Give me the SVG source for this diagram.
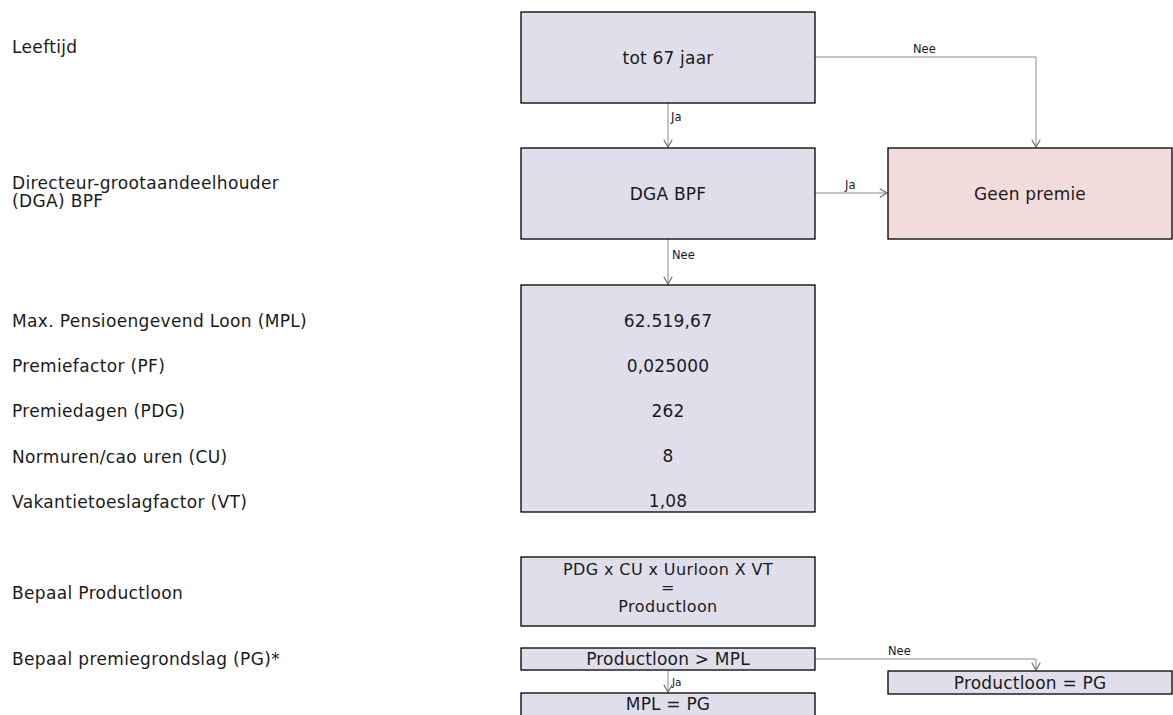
<svg xmlns="http://www.w3.org/2000/svg" width="1173" height="715" viewBox="0 0 1173 715">
<style>
.lbl{font-family:"DejaVu Sans","Verdana",sans-serif;font-size:17px;letter-spacing:0.35px;fill:#1a1a1a}
.box{fill:#e1deec;stroke:#000;stroke-width:1.3}
.pink{fill:#f2dcdb;stroke:#000;stroke-width:1.3}
.t{font-family:"DejaVu Sans","Verdana",sans-serif;font-size:17px;letter-spacing:0.2px;fill:#1a1a1a;text-anchor:middle}
.t2{font-size:16px;letter-spacing:0.4px}
.c{fill:none;stroke:#8c8c8c;stroke-width:1}
.cl{font-family:"DejaVu Sans","Verdana",sans-serif;font-size:11.5px;fill:#1a1a1a}
</style>
<defs>
<marker id="arr" markerUnits="userSpaceOnUse" markerWidth="12" markerHeight="12" viewBox="-8 -5 10 10" refX="0" refY="0" orient="auto">
<path d="M-6,-3.5 L0,0 L-6,3.5" fill="none" stroke="#6e6e6e" stroke-width="1"/>
</marker>
</defs>
<rect width="1173" height="715" fill="#fff"/>
<g id="labels">
<text class="lbl" x="12" y="53">Leeftijd</text>
<text class="lbl" x="12" y="189">Directeur-grootaandeelhouder</text>
<text class="lbl" x="12" y="207">(DGA) BPF</text>
<text class="lbl" x="12" y="327">Max. Pensioengevend Loon (MPL)</text>
<text class="lbl" x="12" y="372">Premiefactor (PF)</text>
<text class="lbl" x="12" y="417">Premiedagen (PDG)</text>
<text class="lbl" x="12" y="463">Normuren/cao uren (CU)</text>
<text class="lbl" x="12" y="508">Vakantietoeslagfactor (VT)</text>
<text class="lbl" x="12" y="599">Bepaal Productloon</text>
<text class="lbl" x="12" y="665">Bepaal premiegrondslag (PG)*</text>
</g>
<g id="connectors">
<path class="c" d="M668,103 V147" marker-end="url(#arr)"/>
<text class="cl" x="671" y="121">Ja</text>
<path class="c" d="M815,57 H1036 V147" marker-end="url(#arr)"/>
<text class="cl" x="913" y="53">Nee</text>
<path class="c" d="M815,193 H887" marker-end="url(#arr)"/>
<text class="cl" x="845" y="189">Ja</text>
<path class="c" d="M668,239 V284" marker-end="url(#arr)"/>
<text class="cl" x="672" y="259">Nee</text>
<path class="c" d="M668,670 V692" marker-end="url(#arr)"/>
<text class="cl" x="672" y="686" style="font-size:10.5px">Ja</text>
<path class="c" d="M815,659 H1036 V670" marker-end="url(#arr)"/>
<text class="cl" x="888" y="655">Nee</text>
</g>
<g id="n-leeftijd">
<rect class="box" x="521" y="12" width="294" height="91"/>
<text class="t" x="668" y="64">tot 67 jaar</text>
</g>
<g id="n-dga">
<rect class="box" x="521" y="148" width="294" height="91"/>
<text class="t" x="668" y="200">DGA BPF</text>
</g>
<g id="n-geenpremie">
<rect class="pink" x="888" y="148" width="284" height="91"/>
<text class="t" x="1030" y="200">Geen premie</text>
</g>
<g id="n-waarden">
<rect class="box" x="521" y="285" width="294" height="227"/>
<text class="t" x="668" y="327">62.519,67</text>
<text class="t" x="668" y="372">0,025000</text>
<text class="t" x="668" y="417">262</text>
<text class="t" x="668" y="462">8</text>
<text class="t" x="668" y="507">1,08</text>
</g>
<g id="n-productloon">
<rect class="box" x="521" y="557" width="294" height="69"/>
<text class="t t2" x="668" y="575">PDG x CU x Uurloon X VT</text>
<text class="t t2" x="668" y="593">=</text>
<text class="t t2" x="668" y="612">Productloon</text>
</g>
<g id="n-vergelijk">
<rect class="box" x="521" y="648" width="294" height="22"/>
<text class="t" x="668" y="665">Productloon &gt; MPL</text>
</g>
<g id="n-mpl">
<rect class="box" x="521" y="693" width="294" height="30"/>
<text class="t" x="668" y="710">MPL = PG</text>
</g>
<g id="n-pg">
<rect class="box" x="888" y="671" width="284" height="23"/>
<text class="t" x="1030" y="689">Productloon = PG</text>
</g>
</svg>
